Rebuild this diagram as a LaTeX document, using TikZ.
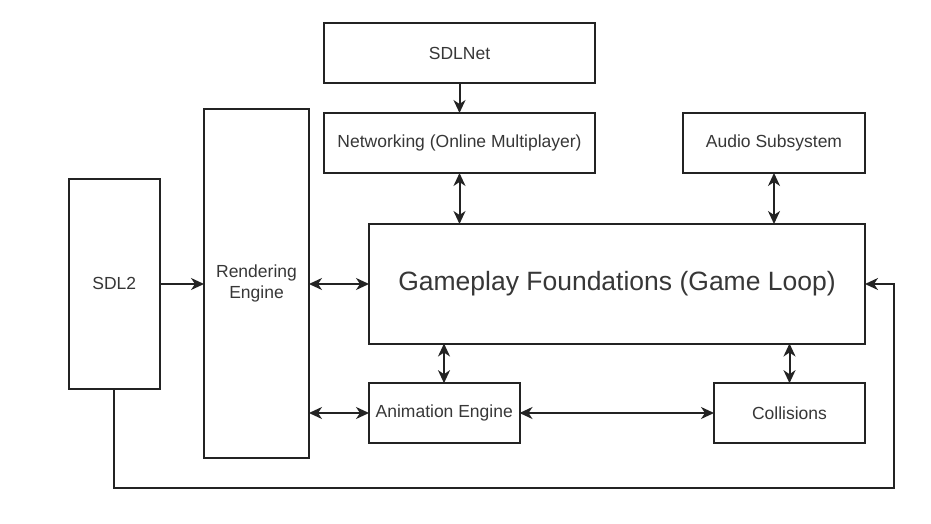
\documentclass[tikz,border=0pt]{standalone}
\usepackage{fontspec}
\setmainfont{Liberation Sans}
\usetikzlibrary{arrows.meta}
\definecolor{linec}{RGB}{35,35,35}
\definecolor{textc}{RGB}{55,55,55}
\begin{document}
\begin{tikzpicture}[x=1pt,y=-1pt,
  blk/.style={draw=linec,line width=2pt,rectangle,inner sep=0pt,outer sep=0pt,
    text=textc,font=\fontsize{17.5}{21}\selectfont,align=center},
  conn/.style={draw=linec,line width=2pt},
  one/.style={conn,-{Stealth[length=13pt,width=12pt,inset=4pt]}},
  two/.style={conn,{Stealth[length=13pt,width=12pt,inset=4pt]}-{Stealth[length=13pt,width=12pt,inset=4pt]}}]
\useasboundingbox[fill=white] (0,0) rectangle (931,524);

\node[blk,minimum width=271,minimum height=60] (sdlnet) at (459.5,53) {SDLNet};
\node[blk,minimum width=271,minimum height=60] (net) at (459.5,143) {Networking (Online Multiplayer)};
\node[blk,minimum width=182,minimum height=60] (audio) at (774,143) {Audio Subsystem};
\node[blk,minimum width=105,minimum height=348.5] (render) at (256.5,283.75) {Rendering\\Engine};
\node[blk,minimum width=90.5,minimum height=210] (sdl2) at (114.25,283.7) {SDL2};
\node[blk,minimum width=496,minimum height=119.5,font=\fontsize{26.5}{30}\selectfont] (game) at (617,283.75) {Gameplay Foundations (Game Loop)};
\node[blk,minimum width=150.5,minimum height=60] (anim) at (444.25,413.2) {Animation Engine};
\node[blk,minimum width=151,minimum height=60] (coll) at (789.5,413.2) {Collisions};

\coordinate (c1) at (114.25,488);
\coordinate (c2) at (894,488);
\coordinate (c3) at (894,284);

\draw[one] (sdlnet.south -| 459.5,0) -- (net.north -| 459.5,0);
\draw[two] (net.south -| 459.5,0) -- (game.north -| 459.5,0);
\draw[two] (audio.south -| 774,0) -- (game.north -| 774,0);
\draw[one] (sdl2.east |- 0,284) -- (render.west |- 0,284);
\draw[two] (render.east |- 0,284) -- (game.west |- 0,284);
\draw[two] (render.east |- 0,413) -- (anim.west |- 0,413);
\draw[two] (game.south -| 444,0) -- (anim.north -| 444,0);
\draw[two] (game.south -| 789.5,0) -- (coll.north -| 789.5,0);
\draw[two] (anim.east |- 0,413) -- (coll.west |- 0,413);
\draw[one] (sdl2.south) -- (c1) -- (c2) -- (c3) -- (game.east |- c3);
\end{tikzpicture}
\end{document}
